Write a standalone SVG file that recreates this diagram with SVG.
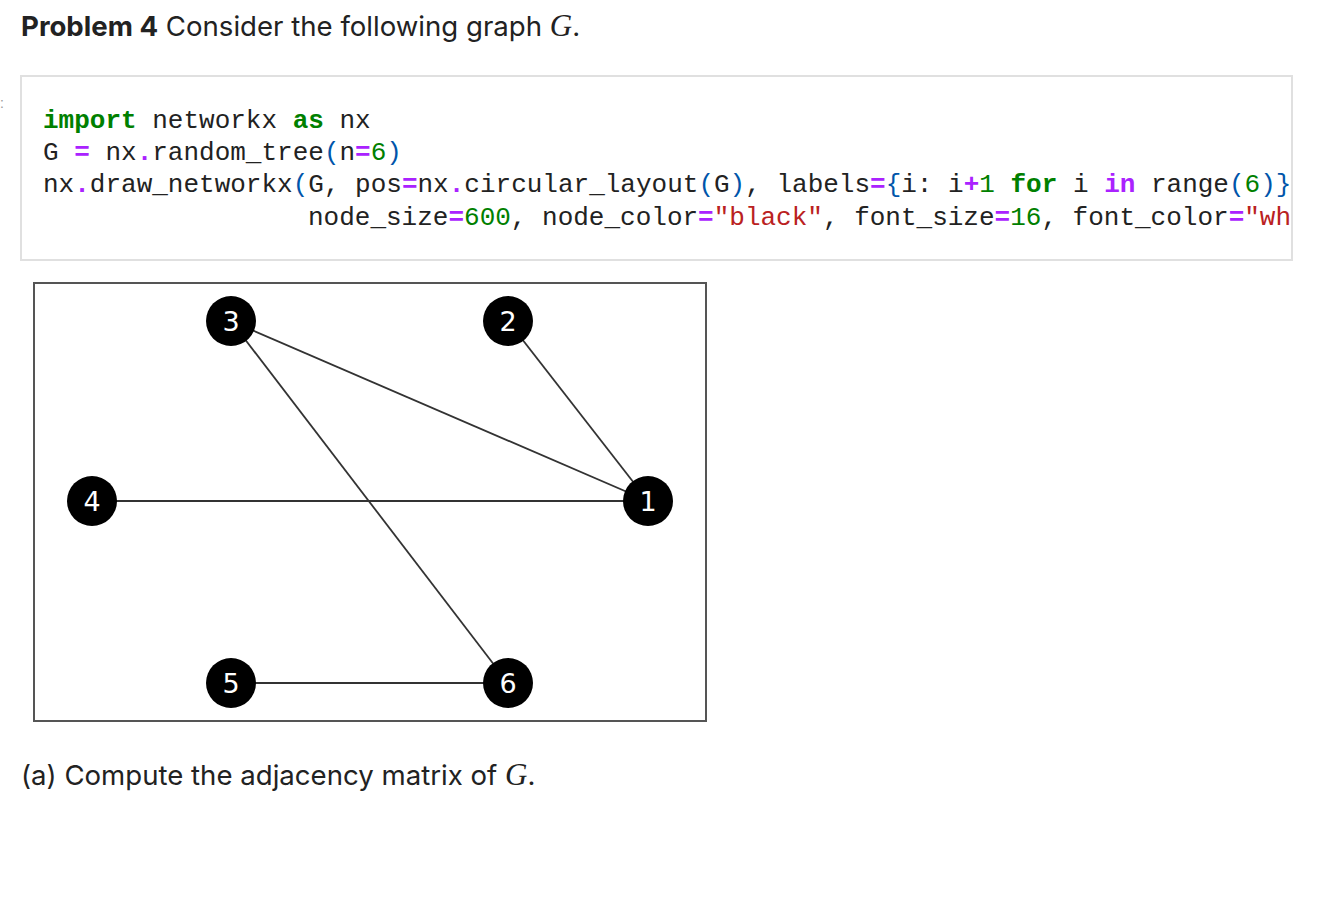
<svg xmlns="http://www.w3.org/2000/svg" width="1338" height="898" viewBox="0 0 1338 898">
<style>
.t{font-family:Inter,Roboto,"Liberation Sans",sans-serif;font-size:27.6px;fill:#222}
.m{font-family:"Liberation Serif",serif;font-style:italic;font-size:31px}
.c{font-family:"Liberation Mono",monospace;font-size:26px;fill:#222;white-space:pre}
.k{fill:#008000;font-weight:bold}
.o{fill:#aa22ff;font-weight:bold}
.n{fill:#008000}
.p{fill:#0055aa}
.s{fill:#ba2121}
.e{stroke:#333;stroke-width:1.8;fill:none}
.nd{fill:#000}
.lb{font-family:"DejaVu Sans",sans-serif;font-size:27px;fill:#fff;text-anchor:middle}
</style>
<rect width="1338" height="898" fill="#fff"/>
<g id="title">
<text class="t" x="21" y="36"><tspan font-weight="bold">Problem 4</tspan> Consider the following graph <tspan class="m">G</tspan>.</text>
</g>
<text x="0" y="108" font-family="Liberation Sans,sans-serif" font-size="14" fill="#999">:</text>
<g id="code">
<rect x="21" y="76" width="1271" height="184" fill="#fff" stroke="#e0e0e0" stroke-width="2"/>
<text class="c" x="43" y="128"><tspan class="k">import</tspan> networkx <tspan class="k">as</tspan> nx</text>
<text class="c" x="43" y="160">G <tspan class="o">=</tspan> nx<tspan class="o">.</tspan>random_tree<tspan class="p">(</tspan>n<tspan class="o">=</tspan><tspan class="n">6</tspan><tspan class="p">)</tspan></text>
<text class="c" x="43" y="192">nx<tspan class="o">.</tspan>draw_networkx<tspan class="p">(</tspan>G, pos<tspan class="o">=</tspan>nx<tspan class="o">.</tspan>circular_layout<tspan class="p">(</tspan>G<tspan class="p">)</tspan>, labels<tspan class="o">=</tspan><tspan class="p">{</tspan>i: i<tspan class="o">+</tspan><tspan class="n">1</tspan> <tspan class="k">for</tspan> i <tspan class="o">in</tspan> range<tspan class="p">(</tspan><tspan class="n">6</tspan><tspan class="p">)}</tspan></text>
<text class="c" x="308" y="225">node_size<tspan class="o">=</tspan><tspan class="n">600</tspan>, node_color<tspan class="o">=</tspan><tspan class="s">"black"</tspan>, font_size<tspan class="o">=</tspan><tspan class="n">16</tspan>, font_color<tspan class="o">=</tspan><tspan class="s">"wh</tspan></text>
</g>
<g id="frame"><rect x="34" y="283" width="672" height="438" fill="none" stroke="#555" stroke-width="2"/></g>
<g id="edges">
<line class="e" x1="231" y1="321" x2="648" y2="501"/>
<line class="e" x1="508" y1="321" x2="648" y2="501"/>
<line class="e" x1="92" y1="501" x2="648" y2="501"/>
<line class="e" x1="231" y1="321" x2="508" y2="683"/>
<line class="e" x1="231" y1="683" x2="508" y2="683"/>
</g>
<g id="n1"><circle class="nd" cx="648" cy="501" r="25"/><text class="lb" x="648" y="511">1</text></g>
<g id="n2"><circle class="nd" cx="508" cy="321" r="25"/><text class="lb" x="508" y="331">2</text></g>
<g id="n3"><circle class="nd" cx="231" cy="321" r="25"/><text class="lb" x="231" y="331">3</text></g>
<g id="n4"><circle class="nd" cx="92" cy="501" r="25"/><text class="lb" x="92" y="511">4</text></g>
<g id="n5"><circle class="nd" cx="231" cy="683" r="25"/><text class="lb" x="231" y="693">5</text></g>
<g id="n6"><circle class="nd" cx="508" cy="683" r="25"/><text class="lb" x="508" y="693">6</text></g>
<g id="question">
<text class="t" x="21" y="785">(a) Compute the adjacency matrix of <tspan class="m">G</tspan>.</text>
</g>
</svg>
